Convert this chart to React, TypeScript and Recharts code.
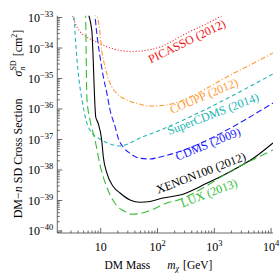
import React from 'react';
import { LineChart, Line, XAxis, YAxis, ReferenceDot } from 'recharts';

const SERIF = '"Liberation Serif", "Times New Roman", "DejaVu Serif", serif';
const FRAME = '#444';

// ---- data (DM mass in GeV, cross section in cm^2) ----
const PICASSO_M = [2.94, 3.53, 4.32, 5.67, 8.51, 12.8, 21.9, 37.0, 60.3, 111, 305, 839, 1543];
const PICASSO_S = [1.76e-33, 6.61e-34, 3.48e-34, 2.3e-34, 1.57e-34, 1.1e-34, 8.28e-35, 7.67e-35, 8.28e-35, 1.08e-34, 2.88e-34, 7.11e-34, 1.3e-33];

const COUPP_M = [8.27, 9.72, 10.4, 11.9, 14.6, 19.1, 28.7, 43.1, 73.8, 120, 2479, 10790];
const COUPP_S = [1.76e-33, 3.1e-34, 8.59e-35, 2.44e-35, 6.97e-36, 3.27e-36, 1.97e-36, 1.54e-36, 1.25e-36, 1.3e-36, 1.67e-35, 6.86e-35];

const SCDMS_M = [3.19, 3.43, 3.6, 3.83, 4.15, 4.69, 5.51, 7.03, 9.72, 14.6, 21.9, 32.8, 49.2, 83.3, 10790];
const SCDMS_S = [1.76e-33, 8.28e-34, 1.83e-34, 4.05e-35, 8.93e-36, 1.97e-36, 4.36e-37, 1.63e-37, 1.04e-37, 7.11e-38, 6.12e-38, 7.67e-38, 1.12e-37, 1.63e-37, 1.41e-35];

const CDMS_M = [7.78, 8.51, 9.72, 11.1, 12.8, 14.6, 17.9, 20.4, 25.7, 32.8, 49.2, 73.8, 111, 10790];
const CDMS_S = [1.76e-33, 3.1e-34, 5.19e-35, 1.15e-35, 3.35e-36, 9.27e-37, 2.63e-37, 1.09e-37, 5.26e-38, 3.53e-38, 2.42e-38, 2.3e-38, 2.67e-38, 1.57e-36];

const XENON_M = [5.69, 6.95, 8.17, 8.97, 10.4, 11.1, 12.8, 16.7, 21.9, 32.8, 49.2, 73.8, 125, 249, 735, 2161, 4860, 10790];
const XENON_S = [1.76e-33, 3.89e-34, 5.47e-37, 3.48e-37, 9.64e-38, 2.73e-38, 7.98e-39, 2.83e-39, 1.76e-39, 1.04e-39, 8.73e-40, 9.27e-40, 1.21e-39, 1.51e-39, 3.66e-39, 1.0e-38, 2.42e-38, 7.67e-38];

const LUX_M = [5.4, 5.51, 5.58, 5.74, 6.48, 7.94, 9.72, 13.4, 19.4, 25.7, 35.6, 49.2, 73.8, 102, 147, 203, 2831, 10790];
const LUX_S = [1.76e-33, 1.83e-34, 1.9e-35, 1.97e-36, 4.36e-37, 9.64e-38, 1.46e-38, 2.21e-39, 6.61e-40, 4.53e-40, 3.53e-40, 3.75e-40, 4.7e-40, 6.12e-40, 8.28e-40, 9.64e-40, 1.35e-38, 4.53e-38];

// ---- axes ----
const X_DOMAIN = [1.72, 10790];
const Y_DOMAIN = [8.59e-41, 1.146e-33];
const X_MAJOR = [10, 100, 1000, 10000];
const X_MAJOR_EXP = ['', '2', '3', '4'];
const Y_MAJOR = [1e-40, 1e-39, 1e-38, 1e-37, 1e-36, 1e-35, 1e-34, 1e-33];
const Y_MAJOR_EXP = ['\u221240', '\u221239', '\u221238', '\u221237', '\u221236', '\u221235', '\u221234', '\u221233'];

const withMinor = (majors: number[]) => {
  const out: number[] = [];
  const all = [majors[0] / 10, ...majors];
  all.forEach((d, i) => {
    out.push(d);
    if (i < all.length - 1) for (let k = 2; k <= 9; k++) out.push(k * d);
  });
  return out;
};
const X_TICKS = withMinor(X_MAJOR).filter((v) => v >= X_DOMAIN[0] && v <= X_DOMAIN[1]);
const Y_TICKS = withMinor(Y_MAJOR).filter((v) => v >= Y_DOMAIN[0] && v <= Y_DOMAIN[1]);

const majorIndex = (arr: number[], v: number) =>
  arr.findIndex((m) => Math.abs(Math.log10(m) - Math.log10(v)) < 1e-6);
const isDecade = (v: number) => Math.abs(Math.log10(v) - Math.round(Math.log10(v))) < 1e-6;

const zip = (m: number[], s: number[]) => m.map((v, i) => ({ m: v, s: s[i] }));

const SERIES = [
  { key: 'picasso', data: zip(PICASSO_M, PICASSO_S), color: '#f01515', dash: '1 2' },
  { key: 'coupp', data: zip(COUPP_M, COUPP_S), color: '#ff9933', dash: '5 2 1.2 2' },
  { key: 'scdms', data: zip(SCDMS_M, SCDMS_S), color: '#22b5b5', dash: '4 3' },
  { key: 'cdms', data: zip(CDMS_M, CDMS_S), color: '#2020ff', dash: '6 3' },
  { key: 'xenon', data: zip(XENON_M, XENON_S), color: '#000000', dash: undefined },
  { key: 'lux', data: zip(LUX_M, LUX_S), color: '#33bb33', dash: '8 4' },
];

const CURVE_LABELS = [
  { text: 'PICASSO (2012)', m: 330, s: 1.65e-34, angle: -26, color: '#f01515' },
  { text: 'COUPP (2012)', m: 659, s: 2.67e-36, angle: -23, color: '#ff9933' },
  { text: 'SuperCDMS (2014)', m: 949, s: 6.86e-37, angle: -21, color: '#22b5b5' },
  { text: 'CDMS (2009)', m: 774, s: 7.11e-38, angle: -22, color: '#2020ff' },
  { text: 'XENON100 (2012)', m: 583, s: 7.98e-39, angle: -21, color: '#000000' },
  { text: 'LUX (2013)', m: 807, s: 1.76e-39, angle: -21, color: '#33bb33' },
];

const BottomTick = (p: any) => {
  const v = p.payload.value;
  const mi = majorIndex(X_MAJOR, v);
  const major = isDecade(v);
  return (
    <g>
      <line x1={p.x} x2={p.x} y1={p.y} y2={p.y - (major ? 5 : 2.5)} stroke={FRAME} strokeWidth={0.8} />
      {mi >= 0 && (
        <text x={p.x} y={p.y + 17.5} textAnchor="middle" fontFamily={SERIF} fontSize={12} fill="#000">
          10
          {X_MAJOR_EXP[mi] !== '' && (
            <tspan dy={-5} fontSize={8.5}>
              {X_MAJOR_EXP[mi]}
            </tspan>
          )}
        </text>
      )}
    </g>
  );
};

const TopTick = (p: any) => {
  const major = isDecade(p.payload.value);
  return <line x1={p.x} x2={p.x} y1={p.y} y2={p.y + (major ? 5 : 2.5)} stroke={FRAME} strokeWidth={0.8} />;
};

const LeftTick = (p: any) => {
  const v = p.payload.value;
  const mi = majorIndex(Y_MAJOR, v);
  const major = isDecade(v);
  return (
    <g>
      <line x1={p.x} x2={p.x + (major ? 5 : 2.5)} y1={p.y} y2={p.y} stroke={FRAME} strokeWidth={0.8} />
      {mi >= 0 && (
        <text x={p.x - 4} y={p.y + 4.5} textAnchor="end" fontFamily={SERIF} fontSize={12} fill="#000">
          10
          <tspan dy={-5} fontSize={8.5}>
            {Y_MAJOR_EXP[mi]}
          </tspan>
        </text>
      )}
    </g>
  );
};

const RightTick = (p: any) => {
  const major = isDecade(p.payload.value);
  return <line x1={p.x} x2={p.x - (major ? 5 : 2.5)} y1={p.y} y2={p.y} stroke={FRAME} strokeWidth={0.8} />;
};

export default function App() {
  return (
    <div style={{ position: 'absolute', left: 0, top: 0, width: 280, height: 279, background: '#fff' }}>
      <LineChart width={280} height={279} margin={{ top: 15.7, right: 7, bottom: 16, left: 12.3 }}>
        <XAxis
          xAxisId={0}
          dataKey="m"
          type="number"
          scale="log"
          domain={X_DOMAIN}
          allowDataOverflow
          ticks={X_TICKS}
          interval={0}
          tickSize={0}
          tickMargin={0}
          tickLine={false}
          tick={(p: any) => <BottomTick {...p} />}
          axisLine={{ stroke: FRAME, strokeWidth: 0.8 }}
          height={30}
        />
        <XAxis
          xAxisId="top"
          orientation="top"
          type="number"
          scale="log"
          domain={X_DOMAIN}
          allowDataOverflow
          ticks={X_TICKS}
          interval={0}
          tickSize={0}
          tickMargin={0}
          tickLine={false}
          tick={(p: any) => <TopTick {...p} />}
          axisLine={{ stroke: FRAME, strokeWidth: 0.8 }}
          height={0}
        />
        <YAxis
          yAxisId={0}
          type="number"
          scale="log"
          domain={Y_DOMAIN}
          allowDataOverflow
          ticks={Y_TICKS}
          interval={0}
          tickSize={0}
          tickMargin={0}
          tickLine={false}
          tick={(p: any) => <LeftTick {...p} />}
          axisLine={{ stroke: FRAME, strokeWidth: 0.8 }}
          width={45}
        />
        <YAxis
          yAxisId="right"
          orientation="right"
          type="number"
          scale="log"
          domain={Y_DOMAIN}
          allowDataOverflow
          ticks={Y_TICKS}
          interval={0}
          tickSize={0}
          tickMargin={0}
          tickLine={false}
          tick={(p: any) => <RightTick {...p} />}
          axisLine={{ stroke: FRAME, strokeWidth: 0.8 }}
          width={0}
        />
        {SERIES.map((s) => (
          <Line
            key={s.key}
            data={s.data}
            dataKey="s"
            type="monotone"
            stroke={s.color}
            strokeWidth={1.1}
            strokeDasharray={s.dash}
            dot={false}
            activeDot={false}
            isAnimationActive={false}
          />
        ))}
        {CURVE_LABELS.map((l) => (
          <ReferenceDot
            key={l.text}
            x={l.m}
            y={l.s}
            r={1}
            ifOverflow="visible"
            shape={(p: any) => (
              <text
                x={p.cx}
                y={p.cy}
                transform={`rotate(${l.angle} ${p.cx} ${p.cy})`}
                textAnchor="middle"
                dominantBaseline="central"
                fontFamily={SERIF}
                fontSize={12}
                fill={l.color}
              >
                {l.text}
              </text>
            )}
          />
        ))}
      </LineChart>
      <svg width={280} height={279} style={{ position: 'absolute', left: 0, top: 0, pointerEvents: 'none' }}>
        <text transform="translate(21.5,124) rotate(-90)" textAnchor="middle" fontFamily={SERIF} fontSize={12} fill="#000">
          <tspan>DM{'\u2212'}</tspan>
          <tspan fontStyle="italic">n</tspan>
          <tspan dx={3}>SD Cross Section</tspan>
          <tspan dx={22} fontStyle="italic">{'\u03c3'}</tspan>
          <tspan fontSize={8} fontStyle="italic" dy={3}>n</tspan>
          <tspan fontSize={8} dx={-4} dy={-8.5}>SD</tspan>
          <tspan dx={4} dy={5.5}>[cm</tspan>
          <tspan fontSize={8} dy={-5}>2</tspan>
          <tspan dy={5}>]</tspan>
        </text>
        <text x={158.5} y={268.5} textAnchor="middle" fontFamily={SERIF} fontSize={11.5} fill="#000">
          <tspan>DM Mass</tspan>
          <tspan dx={17} fontStyle="italic">m</tspan>
          <tspan fontSize={8} fontStyle="italic" dy={2.5}>{'\u03c7'}</tspan>
          <tspan dx={4} dy={-2.5}>[GeV]</tspan>
        </text>
      </svg>
    </div>
  );
}
